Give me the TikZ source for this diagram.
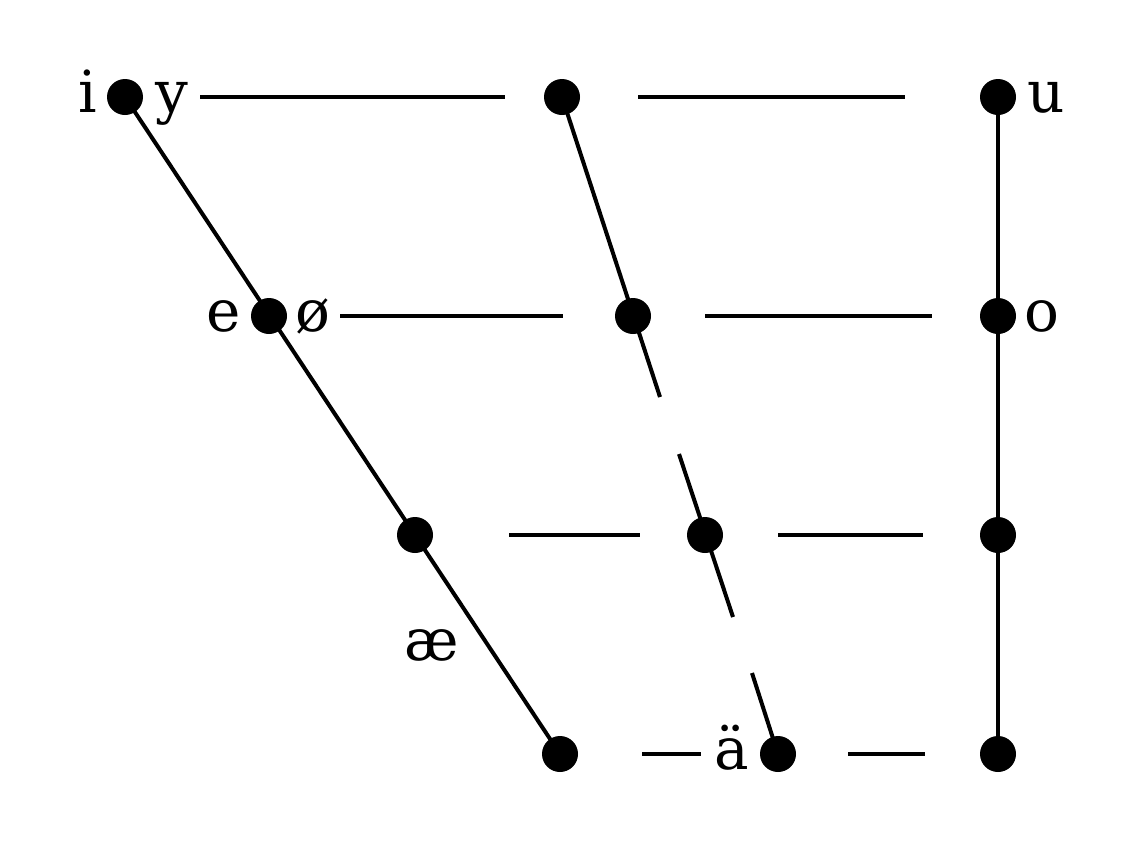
\documentclass[tikz,border=0pt]{standalone}
\usepackage{fontspec}
\setmainfont{DejaVu Serif}
\begin{document}
\begin{tikzpicture}[x=1pt,y=-1pt,
  vdot/.style={circle,fill=black,inner sep=0pt,minimum size=36pt},
  ln/.style={line width=4pt},
  lbl/.style={anchor=base,inner sep=0pt,font=\fontsize{58}{70}\selectfont}]
\useasboundingbox (0,0) rectangle (1144,841);
% dots
\node[vdot] (f1) at (125,97) {};
\node[vdot] (c1) at (562,97) {};
\node[vdot] (b1) at (998,97) {};
\node[vdot] (f2) at (269,316) {};
\node[vdot] (c2) at (633,316) {};
\node[vdot] (b2) at (998,316) {};
\node[vdot] (f3) at (415,535) {};
\node[vdot] (c3) at (705,535) {};
\node[vdot] (b3) at (998,535) {};
\node[vdot] (f4) at (560,754) {};
\node[vdot] (c4) at (778,754) {};
\node[vdot] (b4) at (998,754) {};
% front and back lines
\draw[ln] (f1.center) -- (f4.center);
\draw[ln] (b1.center) -- (b4.center);
% central broken line
\coordinate (cA) at (660,397);
\coordinate (cB) at (679,454);
\coordinate (cC) at (733,617);
\coordinate (cD) at (752,673);
\draw[ln] (c1.center) -- (cA);
\draw[ln] (cB) -- (cC);
\draw[ln] (cD) -- (c4.center);
% horizontal segments
\coordinate (h1a) at (200,97); \coordinate (h1b) at (505,97);
\coordinate (h1c) at (638,97); \coordinate (h1d) at (905,97);
\coordinate (h2a) at (340,316); \coordinate (h2b) at (563,316);
\coordinate (h2c) at (705,316); \coordinate (h2d) at (932,316);
\coordinate (h3a) at (509,535); \coordinate (h3b) at (640,535);
\coordinate (h3c) at (778,535); \coordinate (h3d) at (923,535);
\coordinate (h4a) at (642,754); \coordinate (h4b) at (701,754);
\coordinate (h4c) at (848,754); \coordinate (h4d) at (925,754);
\draw[ln] (h1a) -- (h1b); \draw[ln] (h1c) -- (h1d);
\draw[ln] (h2a) -- (h2b); \draw[ln] (h2c) -- (h2d);
\draw[ln] (h3a) -- (h3b); \draw[ln] (h3c) -- (h3d);
\draw[ln] (h4a) -- (h4b); \draw[ln] (h4c) -- (h4d);
% labels
\node[lbl] (li) at (88,112) {i};
\node[lbl] (ly) at (172,112) {y};
\node[lbl] (lu) at (1046,112) {u};
\node[lbl] (le) at (224,331) {e};
\node[lbl] (loe) at (313,331) {ø};
\node[lbl] (lo) at (1042,331) {o};
\node[lbl] (lae) at (432,660) {æ};
\node[lbl] (la) at (732,769) {ä};
\end{tikzpicture}
\end{document}
